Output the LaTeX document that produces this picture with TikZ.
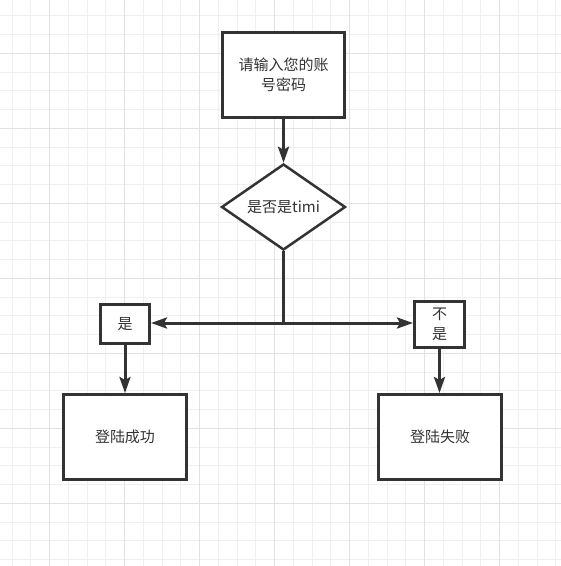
\documentclass[tikz,border=0pt]{standalone}
\usepackage{fontspec}
\setmainfont{Noto Sans CJK SC}
\usetikzlibrary{shapes.geometric,arrows.meta}
\definecolor{ink}{HTML}{333333}
\definecolor{gridminor}{HTML}{F0F0F0}
\definecolor{gridmajor}{HTML}{E2E2E2}
\begin{document}
\begin{tikzpicture}[x=1pt,y=-1pt,
  box/.style={draw=ink,line width=3pt,fill=white,rectangle,inner sep=0pt,text=ink,font=\fontsize{15}{20}\selectfont,align=center},
  decision/.style={draw=ink,line width=2.5pt,fill=white,diamond,shape aspect=1.43,inner sep=0pt,minimum width=124pt,minimum height=86pt,text=ink,font=\fontsize{15}{20}\selectfont},
  conn/.style={draw=ink,line width=3pt},
  arr/.style={conn,-{Stealth[length=16pt,width=11pt,inset=3pt]}}]
\useasboundingbox (0,0) rectangle (561,566);
\fill[white] (0,0) rectangle (561,566);
% grid
\foreach \i in {0,...,29} {
  \pgfmathsetmacro{\gx}{12.2+18.75*\i}
  \draw[gridminor,line width=1pt] (\gx,0) -- (\gx,566);
  \pgfmathsetmacro{\gy}{15.8+18.75*\i}
  \draw[gridminor,line width=1pt] (0,\gy) -- (561,\gy);
}
\foreach \i in {0,...,7} {
  \pgfmathsetmacro{\gx}{49.7+75*\i}
  \draw[gridmajor,line width=1pt] (\gx,0) -- (\gx,566);
  \pgfmathsetmacro{\gy}{53.3+75*\i}
  \draw[gridmajor,line width=1pt] (0,\gy) -- (561,\gy);
}
% nodes
\node[box,minimum width=122pt,minimum height=85pt] (input) at (283.5,75) {请输入您的账\\号密码};
\node[decision] (check) at (283.5,207) {是否是timi};
\node[box,minimum width=49pt,minimum height=39pt] (yes) at (125,324) {是};
\node[box,minimum width=50pt,minimum height=46pt] (no) at (439.5,324.5) {不\\是};
\node[box,minimum width=123pt,minimum height=85pt] (ok) at (125,437) {登陆成功};
\node[box,minimum width=123pt,minimum height=85pt] (fail) at (440,437) {登陆失败};
\coordinate (j) at (283.5,323);
% connectors
\draw[arr] (input) -- (check);
\draw[conn] (check.south) -- (j);
\draw[arr] (j) -- (j -| yes.east);
\draw[arr] (j) -- (j -| no.west);
\draw[arr] (yes) -- (yes |- ok.north);
\draw[arr] (no) -- (no |- fail.north);
\end{tikzpicture}
\end{document}
